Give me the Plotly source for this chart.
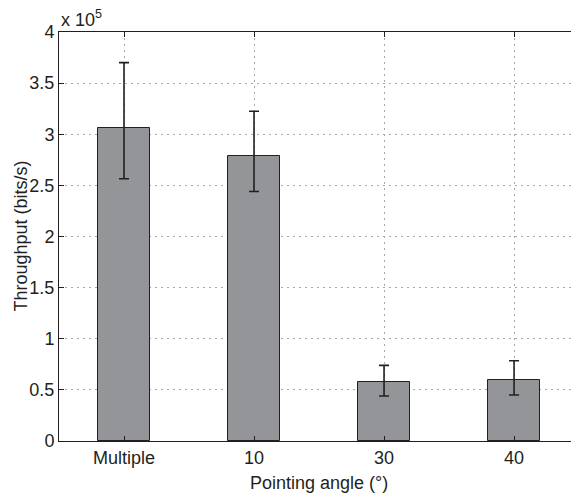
import plotly.graph_objects as go

# Mean throughput per pointing angle (bits/s) with upper/lower bounds
categories = ["Multiple", "10", "30", "40"]
throughput = [3.06e5, 2.785e5, 0.575e5, 0.595e5]
upper_bound = [3.70e5, 3.225e5, 0.74e5, 0.785e5]
lower_bound = [2.565e5, 2.44e5, 0.44e5, 0.45e5]
y_ticks = [0, 0.5, 1, 1.5, 2, 2.5, 3, 3.5, 4]
y_tick_labels = ["0", "0.5", "1", "1.5", "2", "2.5", "3", "3.5", "4"]

SCALE = 1e5  # axis shows values in units of 10^5

y_vals = [v / SCALE for v in throughput]
err_plus = [(u - v) / SCALE for u, v in zip(upper_bound, throughput)]
err_minus = [(v - lo) / SCALE for v, lo in zip(throughput, lower_bound)]

INK = "#231f20"
GRID = "#a8a8a8"
FONT = "Liberation Sans, Arial, Helvetica, sans-serif"

fig = go.Figure()
fig.add_trace(go.Bar(
    x=categories,
    y=y_vals,
    width=0.4,
    marker=dict(color="#939598", line=dict(color=INK, width=1)),
    error_y=dict(
        type="data", symmetric=False,
        array=err_plus, arrayminus=err_minus,
        color=INK, thickness=1.6, width=5,
    ),
    showlegend=False,
))

fig.update_layout(
    width=571, height=497,
    margin=dict(l=59, r=0, t=32, b=56),
    paper_bgcolor="white", plot_bgcolor="white",
    font=dict(family=FONT, size=18, color=INK),
    bargap=0,
)

fig.update_xaxes(
    type="category",
    range=[-0.5, 3.438],
    showline=True, linecolor=INK, linewidth=1, mirror="ticks",
    ticks="inside", ticklen=5, tickcolor=INK,
    showgrid=True, gridcolor=GRID, gridwidth=1, griddash="1.5px,4.5px",
    tickfont=dict(size=18, color=INK),
    zeroline=False,
)
fig.update_yaxes(
    range=[0, 4],
    tickmode="array", tickvals=y_ticks, ticktext=y_tick_labels,
    showline=True, linecolor=INK, linewidth=1, mirror=False,
    ticks="inside", ticklen=5, tickcolor=INK,
    showgrid=True, gridcolor=GRID, gridwidth=1, griddash="1.5px,4.5px",
    tickfont=dict(size=18, color=INK),
    zeroline=False,
)

fig.add_annotation(
    text="Pointing angle (°)", xref="x", x=1.5, yref="paper", y=0,
    yanchor="middle", yshift=-42, showarrow=False,
    font=dict(size=18, color=INK),
)
fig.add_annotation(
    text="Throughput (bits/s)", xref="paper", x=0, xshift=-39,
    yref="paper", y=0.5, textangle=-90, showarrow=False,
    xanchor="center", yanchor="middle",
    font=dict(size=18, color=INK),
)
fig.add_annotation(
    text="x 10<sup>5</sup>", xref="paper", x=0, xanchor="left",
    yref="paper", y=1, yanchor="bottom", showarrow=False,
    font=dict(size=18, color=INK),
)

fig.write_html("out.html")
